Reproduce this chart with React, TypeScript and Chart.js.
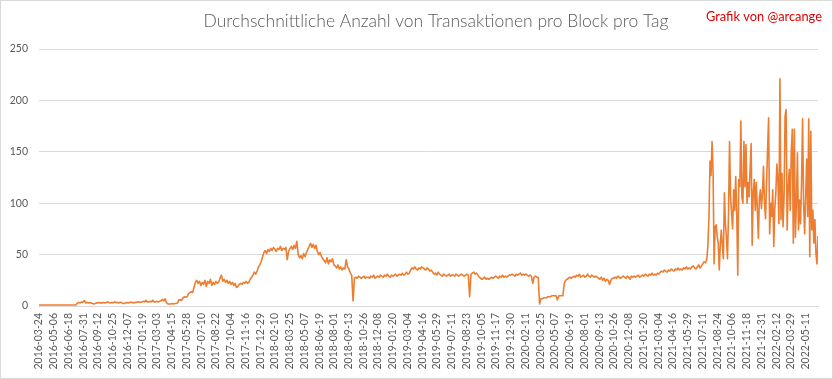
import { useEffect, useRef } from "react";
import { Chart, registerables } from "chart.js";

Chart.register(...registerables);

const TITLE = "Durchschnittliche Anzahl von Transaktionen pro Block pro Tag";
const CREDIT = "Grafik von @arcange";

// Category tick labels (every 43rd day of the daily series)
const tickLabels = [
  "2016-03-24", "2016-05-06", "2016-06-18", "2016-07-31", "2016-09-12", "2016-10-25", "2016-12-07",
  "2017-01-19", "2017-03-03", "2017-04-15", "2017-05-28", "2017-07-10", "2017-08-22", "2017-10-04",
  "2017-11-16", "2017-12-29", "2018-02-10", "2018-03-25", "2018-05-07", "2018-06-19", "2018-08-01",
  "2018-09-13", "2018-10-26", "2018-12-08", "2019-01-20", "2019-03-04", "2019-04-16", "2019-05-29",
  "2019-07-11", "2019-08-23", "2019-10-05", "2019-11-17", "2019-12-30", "2020-02-11", "2020-03-25",
  "2020-05-07", "2020-06-19", "2020-08-01", "2020-09-13", "2020-10-26", "2020-12-08", "2021-01-20",
  "2021-03-04", "2021-04-16", "2021-05-29", "2021-07-11", "2021-08-24", "2021-10-06", "2021-11-18",
  "2021-12-31", "2022-02-12", "2022-03-29", "2022-05-11",
];
const TICK_EVERY = 43;
const LAST_DAY = 2272;

const yTicks = [0, 50, 100, 150, 200, 250];

// Average transactions per block, sampled every 4th day (2016-03 .. 2021-07)
const STEP_EARLY = 4;
const txEarly = [
  1, 1, 1, 1, 1, 1, 1, 1, 1, 1, 1, 1, 1, 1, 1, 1, 1, 1, 1, 1, 1, 1, 1, 1, 1, 1, 1, 1,
  3, 3.5, 3, 4, 3.5, 5.5, 3, 3.5, 3, 3.5, 3, 2.5, 2, 2.5, 3, 3, 3.5, 3, 3, 3.5,
  3, 3.5, 4, 3.5, 3, 3.5, 3, 4, 3.5, 3.5, 3, 3.5, 3.5, 2.5, 2.5, 3, 3.5, 3, 3.5, 3.5,
  3.5, 3, 3.5, 3.5, 4, 4, 3.5, 4, 4.5, 4, 5.5, 4, 4, 4.5, 4, 5.5, 4, 4, 4.5, 4,
  4.5, 5, 6.5, 5, 7, 3, 2, 2,
  2, 2.5, 2, 2.5, 2.5, 3,
  6, 6, 5.5, 8, 9, 8.5, 9,
  12, 13, 14, 13,
  18, 23, 25,
  22, 24, 20, 23, 21, 25, 19, 24, 22, 26, 20, 23, 21, 24, 22, 23, 27, 30, 24, 26,
  23, 25, 22, 24, 21, 23, 20, 22, 18, 19, 21, 22, 21, 23, 22, 24, 22, 23, 26, 28,
  30, 33, 31, 34,
  38, 40, 43,
  48, 52, 54, 51,
  55, 53, 56, 54, 57, 55, 53, 56, 55, 58, 54, 56, 55, 57, 45, 53, 56, 58, 55, 59, 56, 63,
  50, 47, 49, 46, 51, 48, 52,
  55, 58, 61, 57, 60, 56, 59,
  53, 50, 52, 48, 46,
  44, 42, 47, 41, 45, 43, 46, 40,
  39, 37, 40, 36, 38, 35, 37, 36, 45, 38, 36,
  32, 30, 5,
  27, 28, 27, 29, 28, 27, 28, 29, 27, 28,
  28, 27, 29, 28, 30, 27, 28, 29, 28, 30, 29, 28, 30, 29, 31, 29, 28, 30, 29, 30,
  31, 29, 30, 31, 30, 32, 30, 31, 33, 31, 32,
  35, 37, 36, 38, 36, 35, 37, 36, 38, 37, 36, 35, 37, 36, 34, 35,
  33, 31, 32, 30, 33, 31,
  30, 29, 31, 30, 29, 30, 31, 29, 30, 30, 29, 31, 30, 29, 30, 31, 30, 29, 30, 31, 30,
  9,
  31, 32, 33, 31, 32, 30,
  28, 27, 26, 27, 28, 26, 27, 26, 27, 28, 27,
  28, 29, 28, 27, 29, 28, 30, 28, 29, 28, 29, 30,
  30, 31, 30, 29, 31, 30, 31, 32, 30, 31, 30, 31, 30, 29, 30, 29,
  22,
  28, 29, 28, 28,
  2,
  7, 7, 8, 8, 8, 9, 9, 9, 10, 10, 10, 10, 6, 10, 10, 10, 10,
  22,
  25, 26, 27, 28, 27, 28,
  29, 28, 30, 29, 31, 28, 29, 30, 28, 29, 31, 29, 28, 30, 29, 28, 29, 28,
  27, 26, 28, 25, 27, 24, 26, 25, 21, 25, 27,
  27, 28, 27, 29, 28, 27, 28, 29, 28, 27, 29, 28, 26, 29, 28, 29, 28, 29, 30, 28,
  29, 30, 29, 31, 30, 29, 31, 30, 32, 30, 31, 30, 32, 31,
  33, 34, 33, 35, 34, 33, 35, 34, 36, 35, 34, 36, 35, 37, 35, 36, 35, 37, 36, 38,
  36, 37, 36, 38, 39,
  37, 36, 38, 40, 37, 39, 41, 43, 42, 46,
];

// Volatile period (from late July 2021), sampled every 3rd day
const LATE_START_DAY = 1951;
const STEP_LATE = 3;
const txLate = [
  60, 87, 141, 127, 160, 130, 41, 77, 79, 68,
  61, 35, 60, 74, 58, 46, 110, 80, 67, 46,
  90, 160, 106, 90, 75, 113, 93, 126, 90, 30,
  123, 116, 180, 106, 100, 160, 116, 157, 100, 120,
  106, 133, 158, 59, 110, 123, 93, 120, 95, 66,
  105, 113, 95, 110, 136, 100, 85, 120, 153, 183,
  70, 100, 87, 113, 58, 95, 110, 138, 123, 80,
  221, 84, 129, 77, 106, 185, 191, 74, 113, 133,
  93, 150, 172, 61, 172, 67, 100, 149, 74, 103,
  80, 120, 182, 100, 70, 106, 143, 87, 182, 48,
  170, 74, 93, 61, 84, 51, 41, 68,
];

const FONT = "Lato, 'Open Sans', sans-serif";

const decorPlugin = {
  id: "decor",
  beforeDraw(chart: any) {
    const { ctx, width, height } = chart;
    ctx.save();
    ctx.fillStyle = "#ffffff";
    ctx.fillRect(0, 0, width, height);
    ctx.strokeStyle = "#D9D9D9";
    ctx.lineWidth = 1;
    ctx.strokeRect(0.5, 0.5, width - 1, height - 1);

    // Title
    let size = 19;
    ctx.font = `300 ${size}px ${FONT}`;
    let w = ctx.measureText(TITLE).width;
    if (w > 465) {
      size = (size * 465) / w;
      ctx.font = `300 ${size}px ${FONT}`;
    }
    ctx.fillStyle = "#595959";
    ctx.textAlign = "center";
    ctx.textBaseline = "alphabetic";
    ctx.fillText(TITLE, 436, 27);

    // Credit
    let cs = 13;
    ctx.font = `${cs}px ${FONT}`;
    w = ctx.measureText(CREDIT).width;
    if (w > 116) {
      cs = (cs * 116) / w;
      ctx.font = `${cs}px ${FONT}`;
    }
    ctx.fillStyle = "#E00000";
    ctx.textAlign = "left";
    ctx.fillText(CREDIT, 706, 21);
    ctx.restore();
  },
};

export default function App() {
  const ref = useRef<HTMLCanvasElement>(null);

  useEffect(() => {
    document.body.style.margin = "0";
    const canvas = ref.current;
    if (!canvas) return;

    const points = txEarly
      .map((v, i) => ({ x: i * STEP_EARLY, y: v }))
      .concat(txLate.map((v, j) => ({ x: LATE_START_DAY + j * STEP_LATE, y: v })));

    const chart = new Chart(canvas, {
      type: "line",
      data: {
        datasets: [
          {
            label: "Transaktionen pro Block",
            data: points,
            borderColor: "#ED7D31",
            borderWidth: 1.6,
            borderJoinStyle: "round",
            pointRadius: 0,
            tension: 0,
            fill: false,
          },
        ],
      },
      options: {
        responsive: false,
        animation: false,
        devicePixelRatio: 1,
        layout: { padding: { top: 49, right: 15, left: 0, bottom: 0 } },
        plugins: {
          legend: { display: false },
          title: { display: false },
          tooltip: { enabled: false },
        },
        scales: {
          x: {
            type: "linear",
            min: 0,
            max: LAST_DAY,
            grid: { display: false, drawTicks: false },
            border: { display: true, color: "#D9D9D9" },
            afterBuildTicks: (scale: any) => {
              scale.ticks = tickLabels.map((_, k) => ({ value: k * TICK_EVERY }));
            },
            afterFit: (scale: any) => {
              scale.height = 73;
            },
            ticks: {
              autoSkip: false,
              minRotation: 90,
              maxRotation: 90,
              padding: 7,
              color: "#595959",
              font: { family: FONT, size: 10.5 },
              callback: (value: any) => tickLabels[Math.round(Number(value) / TICK_EVERY)] ?? "",
            },
          },
          y: {
            min: 0,
            max: 250,
            afterBuildTicks: (scale: any) => {
              scale.ticks = yTicks.map((v) => ({ value: v }));
            },
            afterFit: (scale: any) => {
              scale.width = 39;
            },
            grid: { color: "#D9D9D9", drawTicks: false },
            border: { display: false },
            ticks: {
              padding: 11,
              color: "#595959",
              font: { family: FONT, size: 10.5 },
            },
          },
        },
      },
      plugins: [decorPlugin],
    });

    return () => chart.destroy();
  }, []);

  return (
    <div style={{ width: 833, height: 379 }}>
      <canvas ref={ref} width={833} height={379} />
    </div>
  );
}
